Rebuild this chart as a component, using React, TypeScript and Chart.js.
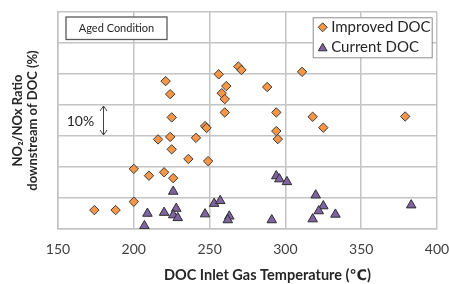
import { useEffect, useRef } from 'react';
import { Chart, registerables } from 'chart.js';

Chart.register(...registerables);

// ---- Data ----
const improvedTemp = [174, 188, 200, 200, 210, 220, 226, 225, 236, 249, 216, 224, 241, 225, 224, 221, 247, 248, 256, 269, 271, 261, 258, 260, 260, 288, 294, 294, 295, 311, 318, 325, 379];
const improvedRatio = [6.1, 6.1, 8.8, 19.4, 17.2, 18.3, 16.4, 25.7, 22.6, 21.9, 28.9, 29.7, 29.4, 36.0, 43.5, 47.7, 33.2, 32.6, 49.9, 52.4, 51.3, 46.1, 43.8, 41.9, 37.6, 45.8, 37.6, 31.6, 29.0, 50.7, 36.2, 32.7, 36.3];
const currentTemp = [209, 220, 207, 226, 228, 226, 229, 247, 253, 257, 263, 262, 291, 294, 296, 301, 320, 325, 322, 333, 318, 383];
const currentRatio = [5.0, 5.3, 1.0, 12.1, 6.6, 4.5, 3.6, 4.8, 8.2, 9.1, 4.1, 2.9, 2.9, 17.1, 16.1, 15.2, 10.9, 7.4, 5.8, 4.7, 3.2, 7.7];
const xTicks = [150, 200, 250, 300, 350, 400];
const seriesLabels = ['Improved DOC', 'Current DOC'];
const yAxisTitle = ['NO\u2082/NOx Ratio', 'downstream of DOC (%)'];
const xAxisTitle = 'DOC Inlet Gas Temperature (\u2103)';
const boxLabel = 'Aged Condition';
const spanLabel = '10%';
const spanFrom = 30;
const spanTo = 40;

const FONT = 'Lato, "Open Sans", "DejaVu Sans", sans-serif';
const ORANGE = '#F79646';
const PURPLE = '#8064A2';
const GRID = '#c4c4c4';

function drawDiamond(ctx: CanvasRenderingContext2D, x: number, y: number, r: number) {
  ctx.beginPath();
  ctx.moveTo(x, y - r);
  ctx.lineTo(x + r, y);
  ctx.lineTo(x, y + r);
  ctx.lineTo(x - r, y);
  ctx.closePath();
  ctx.fillStyle = ORANGE;
  ctx.fill();
  ctx.strokeStyle = '#3a3a3a';
  ctx.lineWidth = 1;
  ctx.stroke();
}

function drawTriangle(ctx: CanvasRenderingContext2D, x: number, y: number, r: number) {
  ctx.beginPath();
  ctx.moveTo(x, y - r);
  ctx.lineTo(x + r * 0.866, y + r * 0.5);
  ctx.lineTo(x - r * 0.866, y + r * 0.5);
  ctx.closePath();
  ctx.fillStyle = PURPLE;
  ctx.fill();
  ctx.strokeStyle = '#2d2d2d';
  ctx.lineWidth = 1;
  ctx.stroke();
}

const annotations = {
  id: 'annotations',
  afterDraw(chart: any) {
    const ctx: CanvasRenderingContext2D = chart.ctx;
    const { top, right, left, bottom } = chart.chartArea;
    const xs = chart.scales.x;
    const ys = chart.scales.y;
    ctx.save();

    // "Aged Condition" box
    const bx = left + 8;
    const by = top + 5;
    ctx.fillStyle = '#ffffff';
    ctx.fillRect(bx, by, 101, 22.5);
    ctx.strokeStyle = '#595959';
    ctx.lineWidth = 1.3;
    ctx.strokeRect(bx, by, 101, 22.5);
    ctx.fillStyle = '#262626';
    ctx.font = `11px ${FONT}`;
    ctx.textAlign = 'center';
    ctx.textBaseline = 'middle';
    ctx.fillText(boxLabel, bx + 50.5, by + 11.5);

    // 10% double arrow
    const ax = Math.round(xs.getPixelForValue(180)) + 0.5;
    const y1 = ys.getPixelForValue(spanTo) + 1;
    const y2 = ys.getPixelForValue(spanFrom) - 1;
    ctx.strokeStyle = '#404040';
    ctx.lineWidth = 1;
    ctx.beginPath();
    ctx.moveTo(ax, y1);
    ctx.lineTo(ax, y2);
    ctx.moveTo(ax - 3.5, y1 + 5);
    ctx.lineTo(ax, y1);
    ctx.lineTo(ax + 3.5, y1 + 5);
    ctx.moveTo(ax - 3.5, y2 - 5);
    ctx.lineTo(ax, y2);
    ctx.lineTo(ax + 3.5, y2 - 5);
    ctx.stroke();
    ctx.fillStyle = '#262626';
    ctx.font = `14px ${FONT}`;
    ctx.textAlign = 'center';
    ctx.fillText(spanLabel, xs.getPixelForValue(164.8), (y1 + y2) / 2 + 1);

    // Legend box
    const lx = right - 124.3;
    const ly = top + 5.3;
    ctx.fillStyle = '#ffffff';
    ctx.fillRect(lx, ly, 119, 40);
    ctx.strokeStyle = '#8c8c8c';
    ctx.lineWidth = 1;
    ctx.strokeRect(lx + 0.5, ly + 0.5, 119, 40);
    drawDiamond(ctx, lx + 10, ly + 10, 4.5);
    drawTriangle(ctx, lx + 10, ly + 31, 5);
    ctx.fillStyle = '#262626';
    ctx.font = `15px ${FONT}`;
    ctx.textAlign = 'left';
    ctx.textBaseline = 'middle';
    ctx.fillText(seriesLabels[0], lx + 18.5, ly + 10);
    ctx.fillText(seriesLabels[1], lx + 18.5, ly + 30);

    // X axis title (offset to the right as in the reference)
    ctx.font = `bold 14.5px ${FONT}`;
    ctx.textAlign = 'center';
    ctx.textBaseline = 'middle';
    ctx.fillText(xAxisTitle, (left + right) / 2 + 20, bottom + 46);
    ctx.restore();
  },
};

export default function App() {
  const ref = useRef<HTMLCanvasElement | null>(null);

  useEffect(() => {
    document.body.style.margin = '0';
    if (!ref.current) return;
    const chart = new Chart(ref.current, {
      type: 'scatter',
      data: {
        datasets: [
          {
            label: seriesLabels[0],
            data: improvedTemp.map((x, i) => ({ x, y: improvedRatio[i] })),
            pointStyle: 'rectRot',
            pointRadius: 4.7,
            backgroundColor: ORANGE,
            borderColor: '#3a3a3a',
            borderWidth: 1,
          },
          {
            label: seriesLabels[1],
            data: currentTemp.map((x, i) => ({ x, y: currentRatio[i] })),
            pointStyle: 'triangle',
            pointRadius: 5.5,
            backgroundColor: PURPLE,
            borderColor: '#2d2d2d',
            borderWidth: 1,
          },
        ],
      },
      options: {
        responsive: false,
        animation: false,
        devicePixelRatio: 1,
        layout: { padding: { top: 12, right: 12, left: 0, bottom: 0 } },
        plugins: { legend: { display: false }, tooltip: { enabled: false } },
        scales: {
          x: {
            type: 'linear',
            min: 150,
            max: 400,
            afterBuildTicks: (s: any) => {
              s.ticks = xTicks.map((v) => ({ value: v }));
            },
            ticks: { font: { family: FONT, size: 14 }, color: '#404040', padding: 12 },
            grid: { color: GRID, lineWidth: 1.5, drawTicks: false },
            border: { color: GRID, width: 1.5 },
            title: { display: false },
            afterFit: (s: any) => {
              s.height = 55;
              s.paddingLeft = 0;
              s.paddingRight = 0;
            },
          },
          y: {
            type: 'linear',
            min: 0,
            max: 70,
            ticks: { stepSize: 10, display: false },
            grid: { color: GRID, lineWidth: 1.5, drawTicks: false },
            border: { color: GRID, width: 1.5 },
            title: {
              display: true,
              text: yAxisTitle,
              font: { family: FONT, size: 13, weight: 'bold', lineHeight: 1.15 },
              color: '#262626',
              padding: { top: 10, bottom: 0 },
            },
            afterFit: (s: any) => {
              s.width = 58;
              s.paddingTop = 0;
              s.paddingBottom = 0;
            },
          },
        },
      } as any,
      plugins: [annotations],
    });
    return () => chart.destroy();
  }, []);

  return (
    <div style={{ width: 449, height: 284 }}>
      <canvas ref={ref} width={449} height={284} style={{ display: 'block' }} />
    </div>
  );
}
